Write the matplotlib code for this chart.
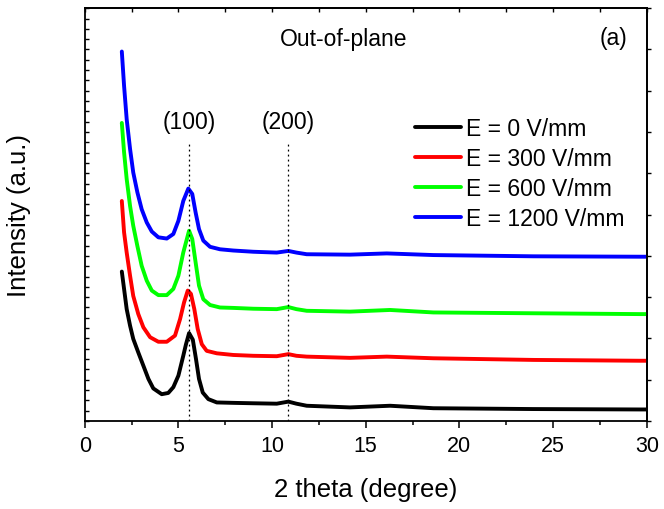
import numpy as np
import matplotlib
matplotlib.use("Agg")
import matplotlib.pyplot as plt
from matplotlib.ticker import MultipleLocator, NullFormatter

plt.rcParams['font.family'] = ['Liberation Sans', 'DejaVu Sans']

# curves (x = 2 theta, y = intensity in arbitrary units, offset)
x_0 = [1.98, 2.24, 2.42, 2.59, 2.86, 3.13, 3.40, 3.66, 4.11, 4.46, 4.73, 5.00, 5.26, 5.40,
       5.57, 5.77, 5.94, 6.10, 6.30, 6.60, 7.05, 7.93, 9.00, 10.25, 10.87, 11.30, 11.85,
       14.16, 16.30, 18.61, 23.95, 29.64, 30.0]
y_0 = [3.62, 2.71, 2.31, 1.99, 1.66, 1.34, 1.02, 0.79, 0.65, 0.68, 0.82, 1.10, 1.58, 1.85,
       2.13, 1.97, 1.50, 1.02, 0.69, 0.53, 0.45, 0.44, 0.43, 0.42, 0.47, 0.42, 0.37,
       0.33, 0.37, 0.31, 0.29, 0.28, 0.28]

x_300 = [1.98, 2.10, 2.24, 2.42, 2.59, 2.86, 3.13, 3.49, 3.93, 4.38, 4.82, 5.09, 5.30, 5.50,
         5.67, 5.85, 6.03, 6.25, 6.51, 7.05, 7.93, 9.00, 10.25, 10.87, 11.30, 11.85, 14.16,
         16.12, 18.61, 23.95, 29.64, 30.0]
y_300 = [5.33, 4.57, 4.08, 3.52, 3.03, 2.59, 2.27, 2.03, 1.92, 1.92, 2.07, 2.47, 2.87, 3.16,
         3.08, 2.71, 2.23, 1.86, 1.70, 1.64, 1.60, 1.58, 1.57, 1.62, 1.58, 1.56, 1.53,
         1.56, 1.52, 1.48, 1.46, 1.46]

x_600 = [1.98, 2.10, 2.24, 2.42, 2.59, 2.81, 3.04, 3.31, 3.58, 3.93, 4.38, 4.73, 5.00, 5.26,
         5.57, 5.74, 5.92, 6.10, 6.33, 6.69, 7.22, 7.93, 9.00, 10.25, 10.87, 11.30, 11.85,
         14.16, 16.30, 18.61, 23.95, 29.64, 30.0]
y_600 = [7.22, 6.51, 5.86, 5.21, 4.73, 4.24, 3.76, 3.40, 3.16, 3.05, 3.05, 3.20, 3.52, 4.08,
         4.61, 4.41, 3.84, 3.28, 2.95, 2.81, 2.75, 2.74, 2.72, 2.71, 2.76, 2.71, 2.67,
         2.65, 2.69, 2.63, 2.61, 2.59, 2.59]

x_1200 = [1.98, 2.10, 2.24, 2.42, 2.59, 2.81, 3.04, 3.31, 3.58, 3.93, 4.38, 4.73, 5.00, 5.26,
          5.53, 5.74, 5.92, 6.10, 6.33, 6.69, 7.22, 7.93, 9.00, 10.25, 10.87, 11.30, 11.85,
          14.16, 16.12, 18.61, 23.95, 29.64, 30.0]
y_1200 = [8.95, 8.12, 7.31, 6.59, 6.02, 5.54, 5.13, 4.81, 4.59, 4.45, 4.42, 4.53, 4.85, 5.33,
          5.63, 5.50, 5.05, 4.65, 4.37, 4.22, 4.16, 4.13, 4.10, 4.08, 4.12, 4.08, 4.04,
          4.03, 4.06, 4.02, 3.99, 3.98, 3.98]

labels = ['E = 0 V/mm', 'E = 300 V/mm', 'E = 600 V/mm', 'E = 1200 V/mm']
colors = ['black', '#ff0000', '#00ff00', '#0000ff']

peak_pos = [5.59, 10.84]
peak_names = ['(100)', '(200)']

fig = plt.figure(figsize=(6.64, 5.10), dpi=100)
ax = fig.add_axes([0.1276, 0.1725, 0.8464, 0.8095])

for xs, ys, lab, c in zip([x_0, x_300, x_600, x_1200], [y_0, y_300, y_600, y_1200], labels, colors):
    ax.plot(xs, ys, color=c, lw=2.8, label=lab, solid_joinstyle='round', solid_capstyle='round')

for p, name in zip(peak_pos, peak_names):
    ax.plot([p, p], [0, 6.76], color='black', lw=0.9, ls=(0, (1.5, 2.5)))
    ax.text(p, 7.26, name, ha='center', va='center', fontsize=16.5)

ax.text(13.84, 9.27, 'Out-of-plane', ha='center', va='center', fontsize=16.5)
ax.text(28.2, 9.3, '(a)', ha='center', va='center', fontsize=16.5)

ax.set_xlim(0, 30)
ax.set_ylim(0, 10)
ax.xaxis.set_major_locator(MultipleLocator(5))
ax.xaxis.set_minor_locator(MultipleLocator(2.5))
ax.yaxis.set_major_locator(MultipleLocator(1))
ax.yaxis.set_minor_locator(MultipleLocator(0.25))
ax.yaxis.set_major_formatter(NullFormatter())

ax.tick_params(axis='x', which='major', direction='out', length=5, width=1.1, labelsize=15.5, pad=5)
ax.tick_params(axis='x', which='minor', direction='out', length=3, width=1.1)
ax.tick_params(axis='y', which='both', direction='in', length=3, width=1.0, left=True, right=False)
for sp in ax.spines.values():
    sp.set_linewidth(1.3)

top = ax.secondary_xaxis('top')
top.xaxis.set_major_locator(MultipleLocator(5))
top.xaxis.set_minor_locator(MultipleLocator(2.5))
top.xaxis.set_major_formatter(NullFormatter())
top.tick_params(which='both', direction='in', length=3, width=1.0)
top.spines['top'].set_linewidth(1.3)

sec = ax.secondary_yaxis('right')
sec.yaxis.set_major_locator(MultipleLocator(1))
sec.yaxis.set_major_formatter(NullFormatter())
sec.tick_params(direction='out', length=3, width=1.0)
sec.spines['right'].set_linewidth(1.3)

ax.set_xlabel('2 theta (degree)', fontsize=18.5, va='top')
ax.xaxis.set_label_coords(0.5, -0.135)
ax.set_ylabel('Intensity (a.u.)', fontsize=18.5)
ax.yaxis.set_label_coords(-0.095, 0.5)

ax.legend(loc='upper left', bbox_to_anchor=(0.568, 0.765), frameon=False, fontsize=16.5,
          handlelength=2.0, handletextpad=0.2, labelspacing=0.31, borderpad=0)

fig.savefig('out.png', dpi=100)
